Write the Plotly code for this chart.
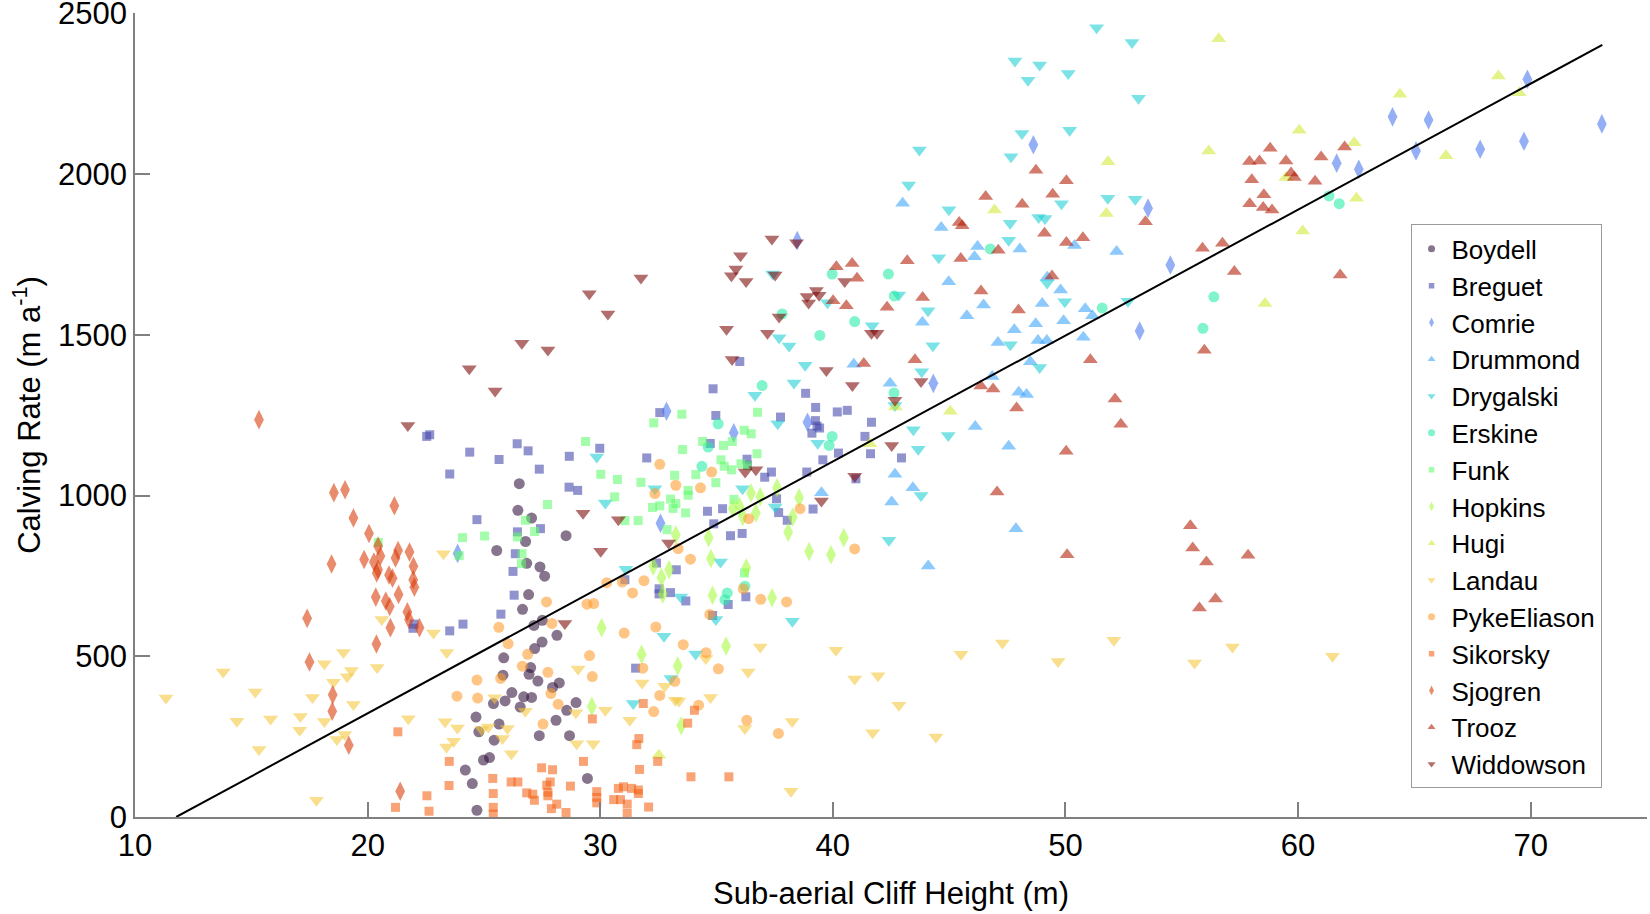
import plotly.graph_objects as go

# Calving rate vs sub-aerial cliff height
names = ["Boydell", "Breguet", "Comrie", "Drummond", "Drygalski", "Erskine", "Funk",
         "Hopkins", "Hugi", "Landau", "PykeEliason", "Sikorsky", "Sjogren", "Trooz", "Widdowson"]

boydell_x = [26.52, 26.46, 27.05, 26.79, 25.55, 28.53, 26.84, 27.41, 27.61, 26.92, 26.66, 27.51, 27.15,
             28.14, 27.5, 27.18, 25.85, 27.01, 26.94, 25.82, 27.32, 27.95, 28.24, 26.2, 26.71, 27.05,
             25.41, 25.91, 26.56, 28.96, 28.56, 28.1, 24.66, 25.65, 24.78, 25.44, 27.38, 28.68, 25.24,
             24.98, 24.2, 29.45, 24.5, 24.7]
boydell_y = [1037, 954, 930, 857, 829, 875, 789, 778, 749, 692, 646, 612, 596, 565, 544, 524, 495, 465,
             444, 441, 423, 403, 417, 387, 374, 372, 353, 361, 342, 356, 332, 301, 311, 289, 265, 239,
             253, 253, 185, 177, 146, 120, 104, 21]

breguet_x = [22.54, 22.67, 24.39, 25.65, 23.53, 24.7, 25.73, 24.1, 23.53, 22.0, 21.95, 26.43, 26.9, 27.38,
             28.67, 29.98, 28.66, 29.03, 32.0, 32.56, 27.43, 26.44, 26.35, 26.25, 26.3, 31.06, 32.42,
             33.27, 32.53, 32.53, 33.02, 31.52, 34.85, 38.83, 39.26, 40.19, 40.62, 34.97, 37.75, 39.25,
             39.32, 39.43, 39.1, 41.66, 34.73, 36.31, 36.33, 41.38, 41.62, 40.24, 39.57, 42.95, 37.07,
             37.36, 38.88, 40.99, 37.58, 34.61, 35.26, 37.67, 38.04, 39.15, 34.88, 35.6, 36.1, 33.68,
             36.26, 35.5, 34.83, 36.0]
breguet_y = [1184, 1189, 1135, 1112, 1067, 925, 631, 600, 579, 600, 587, 1161, 1139, 1082, 1122, 1147,
             1026, 1016, 1117, 1258, 897, 887, 819, 764, 690, 738, 790, 769, 710, 694, 698, 463, 1332,
             1318, 1274, 1260, 1265, 1249, 1244, 1233, 1216, 1210, 1194, 1228, 1162, 1113, 1094, 1184,
             1130, 1132, 1111, 1117, 1057, 1073, 1073, 1052, 990, 951, 959, 947, 923, 958, 912, 875,
             882, 672, 685, 661, 627, 1417]

comrie_x = [23.87, 32.85, 32.59, 38.91, 35.74, 44.32, 38.47, 48.62, 53.55, 54.51, 53.19, 69.86, 64.06,
            65.61, 65.07, 67.83, 69.71, 61.66, 62.61, 73.06]
comrie_y = [820, 1262, 914, 1228, 1195, 1349, 1793, 2091, 1894, 1717, 1512, 2295, 2178, 2168, 2072, 2077,
            2102, 2034, 2015, 2156]

drummond_x = [40.9, 43.0, 44.66, 46.22, 46.09, 48.04, 50.39, 52.2, 44.98, 49.22, 49.79, 46.48, 49.0,
              45.76, 43.85, 47.8, 48.72, 49.92, 50.85, 51.16, 47.1, 48.82, 49.2, 50.77, 48.49, 42.46,
              46.85, 47.99, 48.33, 46.12, 47.56, 42.67, 43.44, 39.51, 42.53, 47.87, 44.1]
drummond_y = [1408, 1909, 1834, 1775, 1743, 1767, 1778, 1759, 1665, 1679, 1639, 1593, 1597, 1559, 1539,
              1516, 1534, 1544, 1581, 1559, 1476, 1482, 1482, 1492, 1416, 1349, 1370, 1321, 1314, 1215,
              1153, 1066, 1024, 1009, 980, 897, 781]

drygalski_x = [51.34, 52.86, 47.83, 48.89, 48.39, 50.12, 53.14, 48.13, 50.18, 47.66, 43.72, 43.26, 44.99,
               47.62, 49.83, 51.82, 53.0, 48.85, 49.12, 47.56, 44.55, 42.83, 39.77, 44.09, 49.21, 49.97,
               41.69, 44.3, 47.63, 48.89, 43.82, 52.69, 42.67, 43.46, 44.96, 43.67, 43.79, 42.41, 37.41,
               37.69, 38.12, 38.81, 38.33, 36.65, 37.63, 39.35, 36.12, 37.52, 35.17, 33.46, 34.97, 38.26,
               32.74, 34.1, 29.85, 32.35, 30.22, 31.1, 31.42, 33.04]
drygalski_y = [2455, 2409, 2352, 2339, 2292, 2313, 2236, 2126, 2136, 2054, 2075, 1966, 1889, 1847, 1908,
               1925, 1922, 1865, 1862, 1794, 1740, 1624, 1600, 1575, 1661, 1603, 1528, 1466, 1469, 1398,
               1385, 1604, 1280, 1205, 1187, 1144, 1000, 861, 1689, 1491, 1465, 1405, 1350, 1312, 1223,
               1163, 1021, 964, 793, 684, 614, 609, 562, 507, 1120, 1021, 977, 771, 353, 431]

erskine_x = [36.96, 42.63, 35.07, 34.64, 39.97, 39.84, 34.37, 36.22, 35.46, 35.36, 37.82, 39.44, 40.94,
             39.97, 42.39, 42.64, 46.77, 51.58, 56.38, 55.91, 61.33, 61.77]
erskine_y = [1342, 1319, 1223, 1151, 1184, 1156, 1091, 718, 697, 676, 1565, 1498, 1541, 1689, 1689, 1621,
             1767, 1583, 1618, 1520, 1932, 1908]

funk_x = [20.46, 24.08, 25.03, 23.94, 29.37, 32.3, 30.02, 30.74, 31.75, 30.62, 27.73, 26.79, 27.18, 26.44,
          26.64, 26.61, 31.06, 31.63, 32.25, 32.56, 33.02, 33.2, 32.87, 33.13, 33.51, 36.76, 36.19, 36.49,
          34.4, 35.68, 35.3, 33.54, 36.74, 35.19, 35.33, 35.65, 36.05, 36.33, 34.11, 34.97, 33.78, 33.78,
          33.25, 33.67, 35.75, 36.2]
funk_y = [854, 869, 874, 813, 1168, 1226, 1066, 1050, 1041, 996, 972, 923, 888, 871, 819, 788, 922, 922,
          963, 968, 989, 1063, 894, 960, 1253, 1259, 1203, 1192, 1168, 1168, 1156, 1143, 1130, 1111, 1091,
          1080, 1099, 1093, 1065, 1040, 1016, 1001, 975, 946, 988, 759]

hopkins_x = [33.25, 32.28, 32.63, 32.96, 32.69, 30.06, 31.78, 33.33, 29.64, 36.48, 36.88, 37.6, 35.99,
             35.7, 36.13, 36.69, 38.55, 38.28, 38.08, 34.66, 40.47, 38.98, 39.92, 34.76, 36.28, 34.83,
             37.39, 35.41, 33.48]
hopkins_y = [878, 780, 745, 769, 694, 589, 506, 470, 344, 1008, 996, 1024, 966, 960, 935, 946, 993, 933,
             886, 869, 869, 826, 816, 804, 775, 690, 682, 532, 284]

hugi_x = [42.69, 45.05, 41.59, 56.59, 56.16, 51.83, 46.95, 51.76, 60.05, 62.41, 59.48, 62.51, 60.2, 58.58,
          64.38, 66.36, 68.61, 69.51, 32.52]
hugi_y = [1275, 1262, 1161, 2421, 2072, 2038, 1888, 1877, 2136, 2097, 1989, 1925, 1823, 1597, 2248, 2057,
          2305, 2253, 192]

landau_x = [11.33, 13.79, 15.17, 14.38, 15.33, 15.83, 17.11, 17.08, 17.63, 18.14, 18.96, 19.3, 19.12,
            18.53, 19.39, 18.14, 18.68, 19.02, 20.41, 20.61, 22.83, 23.26, 23.4, 21.75, 23.33, 23.86, 23.7,
            23.39, 25.19, 25.46, 25.8, 17.8, 24.9, 26.01, 26.18, 26.78, 28.95, 29.05, 30.22, 31.27, 28.99,
            29.7, 31.8, 32.77, 33.23, 34.54, 33.38, 34.74, 36.88, 36.36, 36.22, 38.25, 40.13, 40.94, 41.94,
            42.84, 41.71, 44.43, 45.51, 47.29, 38.2, 52.08, 49.68, 55.55, 57.18, 61.48]
landau_y = [370, 451, 389, 298, 210, 305, 313, 270, 372, 477, 512, 456, 436, 419, 350, 297, 241, 257, 465,
            614, 572, 819, 512, 306, 296, 277, 236, 218, 280, 371, 244, 52, 272, 275, 197, 329, 324, 460,
            332, 301, 228, 228, 417, 407, 363, 493, 361, 372, 529, 451, 275, 297, 519, 429, 439, 348, 262,
            249, 506, 541, 80, 550, 484, 479, 529, 500]

pyke_x = [25.64, 24.7, 23.84, 24.73, 25.72, 26.04, 32.56, 33.25, 32.35, 27.69, 29.43, 29.72, 30.28, 30.95,
          31.39, 31.88, 27.92, 26.88, 26.65, 27.75, 29.54, 29.66, 31.03, 32.39, 31.83, 32.56, 32.3, 27.88,
          28.19, 27.54, 33.35, 34.31, 34.79, 33.88, 36.38, 38.59, 40.94, 36.15, 36.9, 38.01, 34.71, 33.57,
          34.55, 35.08, 33.21, 34.23, 36.3, 37.66]
pyke_y = [590, 426, 376, 370, 431, 539, 1097, 1032, 1006, 669, 662, 664, 729, 731, 697, 735, 602, 506, 469,
          450, 502, 437, 572, 591, 463, 378, 328, 384, 351, 289, 835, 1024, 1073, 802, 928, 959, 834, 710,
          677, 669, 630, 536, 511, 461, 422, 348, 301, 260]

sikorsky_x = [21.3, 23.51, 25.38, 29.66, 31.85, 31.66, 31.57, 27.48, 27.95, 29.28, 31.69, 32.47, 34.05,
              33.76, 33.9, 35.53, 21.2, 22.55, 22.64, 23.5, 25.4, 25.4, 25.4, 26.17, 26.46, 26.84, 27.1,
              27.17, 27.7, 27.75, 27.85, 27.75, 28.13, 27.9, 28.53, 28.72, 29.85, 29.85, 29.85, 30.58, 30.87,
              30.78, 31.0, 31.16, 31.16, 31.35, 31.64, 31.64, 32.08]
sikorsky_y = [265, 173, 120, 305, 353, 244, 225, 153, 147, 173, 148, 173, 332, 292, 125, 125, 30, 66, 18,
              98, 73, 30, 9, 109, 109, 75, 71, 52, 99, 77, 109, 66, 40, 26, 14, 96, 44, 61, 79, 54, 54, 89,
              94, 40, 11, 89, 84, 73, 31]

sjogren_x = [15.33, 18.55, 19.03, 21.15, 19.39, 20.06, 20.45, 21.31, 21.8, 20.55, 19.85, 20.27, 21.2,
             18.45, 21.97, 20.45, 20.39, 20.92, 21.07, 21.96, 22.01, 20.35, 21.33, 20.78, 20.95, 17.4, 21.71,
             21.78, 20.98, 22.23, 20.38, 17.5, 18.5, 18.48, 19.19, 21.4]
sjogren_y = [1236, 1009, 1018, 968, 930, 882, 843, 829, 824, 812, 801, 793, 806, 787, 780, 770, 759, 753,
             743, 738, 715, 684, 692, 672, 655, 618, 638, 614, 589, 589, 538, 482, 380, 329, 223, 80]

trooz_x = [40.15, 40.83, 41.04, 40.01, 40.58, 43.2, 42.33, 43.86, 46.57, 48.14, 48.73, 50.04, 49.45, 45.43,
           45.56, 47.11, 45.5, 49.1, 50.04, 50.75, 53.44, 46.37, 49.42, 47.98, 43.53, 41.33, 46.36, 46.89,
           47.9, 51.07, 52.13, 52.38, 55.89, 56.75, 57.26, 55.97, 47.06, 50.03, 50.07, 55.37, 55.47, 56.06,
           57.85, 56.45, 55.76, 58.8, 57.91, 58.34, 59.48, 60.99, 62.0, 58.01, 59.7, 59.84, 60.73, 58.53,
           57.92, 58.5, 58.88, 61.81]
trooz_y = [1712, 1722, 1676, 1606, 1590, 1730, 1586, 1616, 1930, 1906, 2012, 1979, 1937, 1849, 1839, 1763,
           1737, 1816, 1787, 1802, 1852, 1636, 1683, 1577, 1422, 1411, 1341, 1331, 1272, 1422, 1300, 1222,
           1769, 1785, 1697, 1452, 1011, 1138, 816, 906, 837, 793, 814, 678, 650, 2080, 2039, 2041, 2041,
           2053, 2084, 1982, 2003, 1989, 1978, 1936, 1908, 1896, 1888, 1686]

widdowson_x = [21.73, 25.48, 24.37, 26.63, 27.75, 29.53, 30.33, 31.75, 37.38, 38.44, 36.03, 35.83, 35.64,
               36.27, 37.52, 38.89, 39.29, 39.41, 38.96, 40.51, 37.69, 35.43, 37.19, 35.67, 39.72, 40.84,
               29.26, 30.78, 30.02, 32.94, 28.48, 42.67, 42.53, 40.94, 39.51, 36.23, 36.69, 43.79, 41.66,
               41.9]
widdowson_y = [1218, 1325, 1394, 1474, 1453, 1628, 1565, 1677, 1798, 1786, 1746, 1705, 1684, 1666, 1686,
               1619, 1638, 1623, 1599, 1666, 1555, 1517, 1505, 1423, 1389, 1342, 945, 925, 827, 852, 602,
               1296, 1156, 1060, 983, 1073, 1080, 1355, 1505, 1505]

# least-squares fit line end points
fit_x = [11.77, 73.08]
fit_y = [0, 2402]

x_ticks = [10, 20, 30, 40, 50, 60, 70]
y_ticks = [0, 500, 1000, 1500, 2000, 2500]

colors = ["#30123b", "#4145ab", "#4675ed", "#39a2fc", "#1bcfd4", "#24eca6", "#61fc6c", "#a4fc3b",
          "#d1e834", "#f3c63a", "#fe9b2d", "#f36315", "#d93806", "#b11901", "#7a0403"]
symbols = ["circle", "square", "diamond-tall", "triangle-up", "triangle-down"] * 3
sizes = {"circle": 11, "square": 9, "diamond-tall": 14, "triangle-up": 13, "triangle-down": 13}

xs = [boydell_x, breguet_x, comrie_x, drummond_x, drygalski_x, erskine_x, funk_x, hopkins_x, hugi_x,
      landau_x, pyke_x, sikorsky_x, sjogren_x, trooz_x, widdowson_x]
ys = [boydell_y, breguet_y, comrie_y, drummond_y, drygalski_y, erskine_y, funk_y, hopkins_y, hugi_y,
      landau_y, pyke_y, sikorsky_y, sjogren_y, trooz_y, widdowson_y]

fig = go.Figure()

for name, x, y, sym, col in zip(names, xs, ys, symbols, colors):
    fig.add_trace(go.Scatter(
        x=x, y=y, mode="markers", name=name, showlegend=False,
        marker=dict(symbol=sym, size=sizes[sym], color=col, opacity=0.58, line=dict(width=0)),
    ))

fig.add_trace(go.Scatter(x=fit_x, y=fit_y, mode="lines", showlegend=False,
                         line=dict(color="black", width=2)))

# small legend markers, like the original
for name, sym, col in zip(names, symbols, colors):
    fig.add_trace(go.Scatter(
        x=[None], y=[None], mode="markers", name=name,
        marker=dict(symbol=sym, size=7 if sym != "square" else 5.5, color=col, opacity=0.58,
                    line=dict(width=0)),
    ))

font = "Liberation Sans, Arial, sans-serif"

fig.update_layout(
    width=1650, height=914,
    margin=dict(l=135, r=3, t=13, b=97),
    paper_bgcolor="white", plot_bgcolor="white",
    font=dict(family=font, size=31, color="black"),
    showlegend=True,
    legend=dict(
        x=0.8436, y=0.737, xanchor="left", yanchor="top",
        bordercolor="#9a9a9a", borderwidth=1, bgcolor="white",
        font=dict(size=26, family=font), itemwidth=30,
        tracegroupgap=0,
    ),
    xaxis=dict(
        range=[10, 75], tickvals=x_ticks, ticks="inside", ticklen=15, tickwidth=1.5,
        tickcolor="#808080", showline=True, linecolor="#808080", linewidth=1.5,
        showgrid=False, zeroline=False, tickfont=dict(size=31), automargin=False,
        ticklabeloverflow="allow",
        title=dict(text="Sub-aerial Cliff Height (m)", font=dict(size=31), standoff=20),
    ),
    yaxis=dict(
        range=[0, 2501], tickvals=y_ticks, ticks="inside", ticklen=15, tickwidth=1.5,
        tickcolor="#808080", showline=True, linecolor="#808080", linewidth=1.5,
        showgrid=False, zeroline=False, tickfont=dict(size=31), automargin=False,
        ticklabeloverflow="allow",
        title=dict(text="Calving Rate (m a<sup>-1</sup>)", font=dict(size=31), standoff=8),
    ),
)

# drop the default page margin so the figure sits at the window's corner
fig.write_html("out.html", config={"displayModeBar": False},
               post_script="document.body.style.margin = '0';")
